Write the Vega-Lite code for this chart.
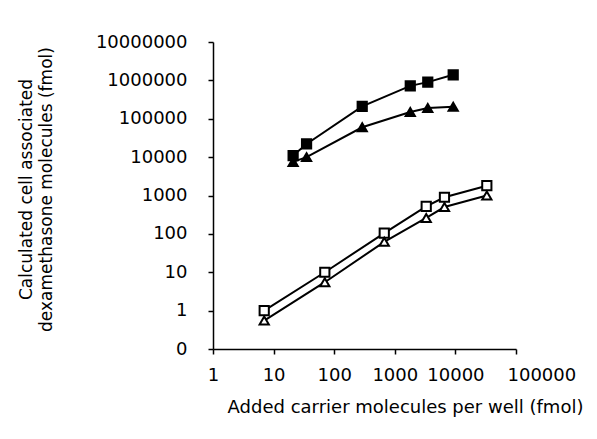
{
  "$schema": "https://vega.github.io/schema/vega-lite/v6.json",
  "width": 303,
  "height": 307,
  "autosize": "none",
  "padding": {"left": 213, "top": 42, "right": 81, "bottom": 90},
  "background": "white",
  "data": {
    "values": [
      {"series": "A", "x": 21, "y": 11000},
      {"series": "A", "x": 35, "y": 22000},
      {"series": "A", "x": 290, "y": 210000},
      {"series": "A", "x": 1800, "y": 720000},
      {"series": "A", "x": 3500, "y": 900000},
      {"series": "A", "x": 9200, "y": 1400000},
      {"series": "B", "x": 21, "y": 7500},
      {"series": "B", "x": 35, "y": 10000},
      {"series": "B", "x": 290, "y": 60000},
      {"series": "B", "x": 1800, "y": 150000},
      {"series": "B", "x": 3500, "y": 190000},
      {"series": "B", "x": 9200, "y": 205000},
      {"series": "C", "x": 7, "y": 1.0},
      {"series": "C", "x": 70, "y": 10},
      {"series": "C", "x": 670, "y": 105},
      {"series": "C", "x": 3300, "y": 520},
      {"series": "C", "x": 6600, "y": 900},
      {"series": "C", "x": 33000, "y": 1800},
      {"series": "D", "x": 7, "y": 0.55},
      {"series": "D", "x": 70, "y": 5.5},
      {"series": "D", "x": 670, "y": 62},
      {"series": "D", "x": 3300, "y": 260},
      {"series": "D", "x": 6600, "y": 500},
      {"series": "D", "x": 33000, "y": 1000}
    ]
  },
  "encoding": {
    "x": {
      "field": "x", "type": "quantitative",
      "scale": {"type": "log", "domain": [1, 100000], "nice": false},
      "axis": {
        "values": [1, 10, 100, 1000, 10000, 100000],
        "labelExpr": "format(datum.value, 'd')",
        "labelOverlap": false,
        "labelFontSize": 18,
        "labelAlign": {"condition": {"test": "datum.value >= 100000", "value": "left"}, "value": "center"},
        "labelOffset": {"condition": {"test": "datum.value >= 100000", "value": -9}, "value": 0},
        "title": "Added carrier molecules per well (fmol)",
        "tickSize": 5, "labelPadding": 12.5,
        "titleFontSize": 18,
        "titleX": 192, "titleY": 58, "titleBaseline": "middle"
      }
    },
    "y": {
      "field": "y", "type": "quantitative",
      "scale": {"type": "log", "domain": [0.1, 10000000], "nice": false},
      "axis": {
        "values": [0.1, 1, 10, 100, 1000, 10000, 100000, 1000000, 10000000],
        "labelExpr": "datum.value < 1 ? '0' : format(datum.value, 'd')",
        "labelOverlap": false,
        "labelFontSize": 18,
        "title": ["Calculated cell associated", "dexamethasone molecules (fmol)"],
        "tickSize": 5, "labelPadding": 21, "titlePadding": 40,
        "titleFontSize": 17,
        "titleLineHeight": 20,
        "titleY": 147
      }
    }
  },
  "layer": [
    {
      "mark": {"type": "line", "color": "black", "strokeWidth": 2},
      "encoding": {"detail": {"field": "series"}}
    },
    {
      "mark": {"type": "point", "size": 85, "strokeWidth": 2, "opacity": 1, "stroke": "black"},
      "encoding": {
        "shape": {"field": "series", "type": "nominal",
          "scale": {"domain": ["A", "B", "C", "D"], "range": ["square", "triangle-up", "square", "triangle-up"]},
          "legend": null},
        "fill": {"field": "series", "type": "nominal",
          "scale": {"domain": ["A", "B", "C", "D"], "range": ["black", "black", "white", "white"]},
          "legend": null}
      }
    }
  ],
  "config": {
    "view": {"stroke": null},
    "axis": {
      "grid": false,
      "domainColor": "black", "domainWidth": 1.5,
      "tickColor": "black", "tickWidth": 1.5,
      "labelFont": "DejaVu Sans", "labelColor": "black",
      "titleFont": "DejaVu Sans", "titleFontWeight": "normal", "titleColor": "black"
    }
  }
}
